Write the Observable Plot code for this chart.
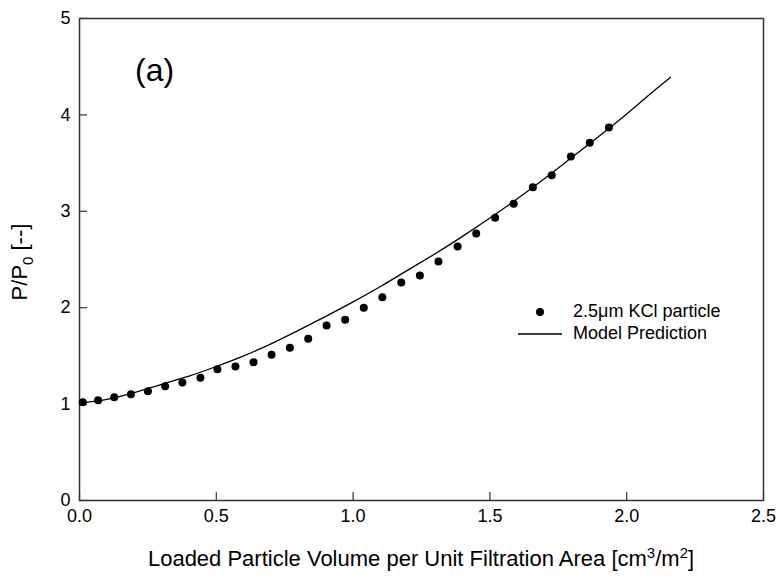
<!DOCTYPE html>
<html>
<head>
<meta charset="utf-8">
<script src="https://cdn.jsdelivr.net/npm/d3@7"></script>
<script src="https://cdn.jsdelivr.net/npm/@observablehq/plot@0.6"></script>
<style>
  html, body { margin: 0; padding: 0; background: #fff; }
  #wrap { position: relative; width: 780px; height: 581px; font-family: "Liberation Sans", Arial, sans-serif; color: #000; }
  .ov { position: absolute; white-space: nowrap; }
  sub, sup { font-size: 68%; }
</style>
</head>
<body>
<div id="wrap"></div>
<script>
// Observed data: 2.5 µm KCl particle
const obsX = [0.012, 0.068, 0.127, 0.188, 0.250, 0.313, 0.376, 0.442, 0.504, 0.570,
              0.636, 0.702, 0.769, 0.836, 0.903, 0.971, 1.039, 1.107, 1.176, 1.244,
              1.312, 1.382, 1.450, 1.519, 1.587, 1.657, 1.726, 1.796, 1.865, 1.935];
const obsY = [1.020, 1.040, 1.072, 1.103, 1.134, 1.186, 1.224, 1.273, 1.362, 1.390,
              1.435, 1.511, 1.584, 1.678, 1.815, 1.875, 1.999, 2.109, 2.261, 2.334,
              2.479, 2.635, 2.770, 2.933, 3.079, 3.250, 3.375, 3.568, 3.711, 3.869];
// Model prediction
const modelX = [0.0, 0.1, 0.2, 0.3, 0.4, 0.5, 0.6, 0.7, 0.8, 0.9, 1.0, 1.1, 1.2, 1.3,
                1.4, 1.5, 1.6, 1.7, 1.8, 1.9, 2.0, 2.1, 2.16];
const modelY = [1.01, 1.05, 1.12, 1.205, 1.29, 1.39, 1.50, 1.625, 1.765, 1.91, 2.06, 2.22,
                2.39, 2.56, 2.74, 2.93, 3.13, 3.34, 3.56, 3.78, 4.01, 4.25, 4.39];
const xTicks = [0, 0.5, 1.0, 1.5, 2.0, 2.5];
const yTicks = [0, 1, 2, 3, 4, 5];
const seriesLabels = ["2.5\u03BCm KCl particle", "Model Prediction"];

const obs = obsX.map((x, i) => ({x, y: obsY[i]}));
const model = modelX.map((x, i) => ({x, y: modelY[i]}));

const W = 780, H = 581, mL = 79, mR = 17, mT = 18, mB = 81, tick = 8;

const chart = Plot.plot({
  width: W, height: H,
  marginLeft: mL, marginRight: mR, marginTop: mT, marginBottom: mB,
  style: { fontFamily: "'Liberation Sans', Arial, sans-serif", fontSize: "18px", color: "#000", background: "#fff" },
  x: { domain: [0, 2.5] },
  y: { domain: [0, 5] },
  marks: [
    Plot.axisX(xTicks, { tickSize: 0, tickPadding: 9, tickFormat: d3.format(".1f"), label: null, fontSize: 18 }),
    Plot.axisY(yTicks, { tickSize: 0, tickPadding: 9, tickFormat: d3.format("d"), label: null, fontSize: 18 }),
    Plot.tickX(xTicks, { x: d => d, insetTop: (H - mT - mB) - tick, stroke: "#333", strokeWidth: 1.2 }),
    Plot.tickY(yTicks, { y: d => d, insetRight: (W - mL - mR) - tick, stroke: "#333", strokeWidth: 1.2 }),
    Plot.frame({ stroke: "#333", strokeWidth: 1.5 }),
    Plot.line(model, { x: "x", y: "y", stroke: "#000", strokeWidth: 1.3, curve: "monotone-x" }),
    Plot.dot(obs, { x: "x", y: "y", r: 4, fill: "#000", stroke: "none" })
  ]
});

const wrap = document.getElementById("wrap");
wrap.appendChild(chart);
function ov(html, css) {
  const d = document.createElement("div");
  d.className = "ov"; d.innerHTML = html; Object.assign(d.style, css); wrap.appendChild(d); return d;
}
// panel label
ov("(a)", { left: "135px", top: "51px", fontSize: "32px", lineHeight: "38px" });
// axis titles
ov("P/P<sub>0</sub> [--]", { left: "24px", top: "262px", fontSize: "22px", lineHeight: "26px", transform: "translate(-50%,-50%) rotate(-90deg)" });
ov("Loaded Particle Volume per Unit Filtration Area [cm<sup>3</sup>/m<sup>2</sup>]", { left: "421px", top: "556px", fontSize: "22px", lineHeight: "26px", transform: "translate(-50%,-50%)" });
// legend
ov(`<svg width="55" height="12" style="vertical-align:middle"><circle cx="22" cy="6" r="4" fill="#000"/></svg>${seriesLabels[0]}`,
   { left: "518px", top: "300px", fontSize: "18px", lineHeight: "22px" });
ov(`<svg width="55" height="12" style="vertical-align:middle"><line x1="0" x2="44" y1="6" y2="6" stroke="#000" stroke-width="1.3"/></svg>${seriesLabels[1]}`,
   { left: "518px", top: "322px", fontSize: "18px", lineHeight: "22px" });
</script>
</body>
</html>
